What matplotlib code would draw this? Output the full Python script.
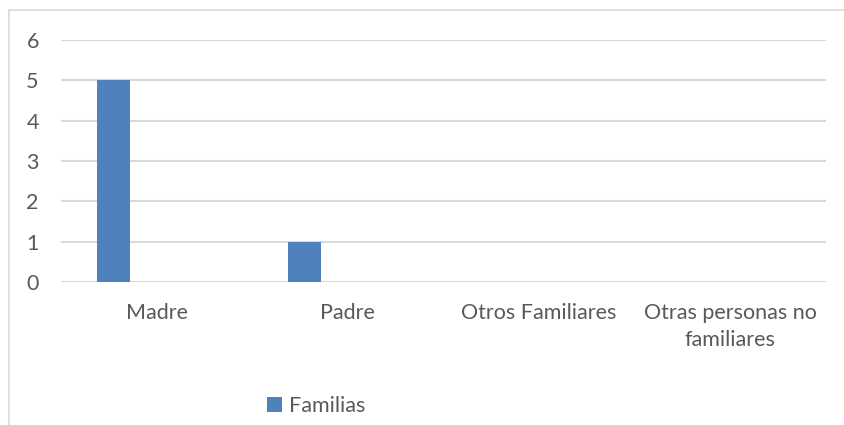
import matplotlib
matplotlib.use("Agg")
import matplotlib.pyplot as plt
from matplotlib.patches import Rectangle

categories = ["Madre", "Padre", "Otros Familiares", "Otras personas no\nfamiliares"]
familias = [5, 1, 0, 0]
yticks = [0, 1, 2, 3, 4, 5, 6]

W, H = 844, 425
fig = plt.figure(figsize=(W/100, H/100), dpi=100)
plt.rcParams['font.family'] = ['Lato', 'DejaVu Sans']

# outer chart border (extends beyond right/bottom edges)
fig.patches.append(Rectangle((9/W, 1 - 10/H - 2), 2, 2, transform=fig.transFigure,
                             fill=False, edgecolor="#d9d9d9", linewidth=1.2))

x0, x1 = 61, 826
y_top, y_bot = 40, 282
ax = fig.add_axes([x0/W, 1 - y_bot/H, (x1-x0)/W, (y_bot-y_top)/H])
ax.set_xlim(-0.5, len(categories) - 0.5)
ax.set_ylim(0, 6)

xs = [i - 0.225 for i in range(len(categories))]
ax.bar(xs, familias, width=0.1725, color="#4f81bd", label="Familias", zorder=3)

ax.set_yticks(yticks)
ax.set_yticklabels([str(v) for v in yticks])
ax.yaxis.grid(True, color="#d9d9d9", linewidth=1.5, zorder=0)
ax.set_xticks(range(len(categories)))
ax.set_xticklabels(categories, linespacing=1.45)
for s in ax.spines.values():
    s.set_visible(False)
ax.tick_params(axis='both', length=0, labelsize=15.5, colors="#595959")
ax.tick_params(axis='x', pad=15)
ax.tick_params(axis='y', pad=16)

leg = fig.legend(loc="center", bbox_to_anchor=(316/W, 1 - 406/H), frameon=False,
                 fontsize=15.5, handlelength=0.7, handleheight=0.7, handletextpad=0.3,
                 labelcolor="#595959")

fig.savefig("out.png", dpi=100)
